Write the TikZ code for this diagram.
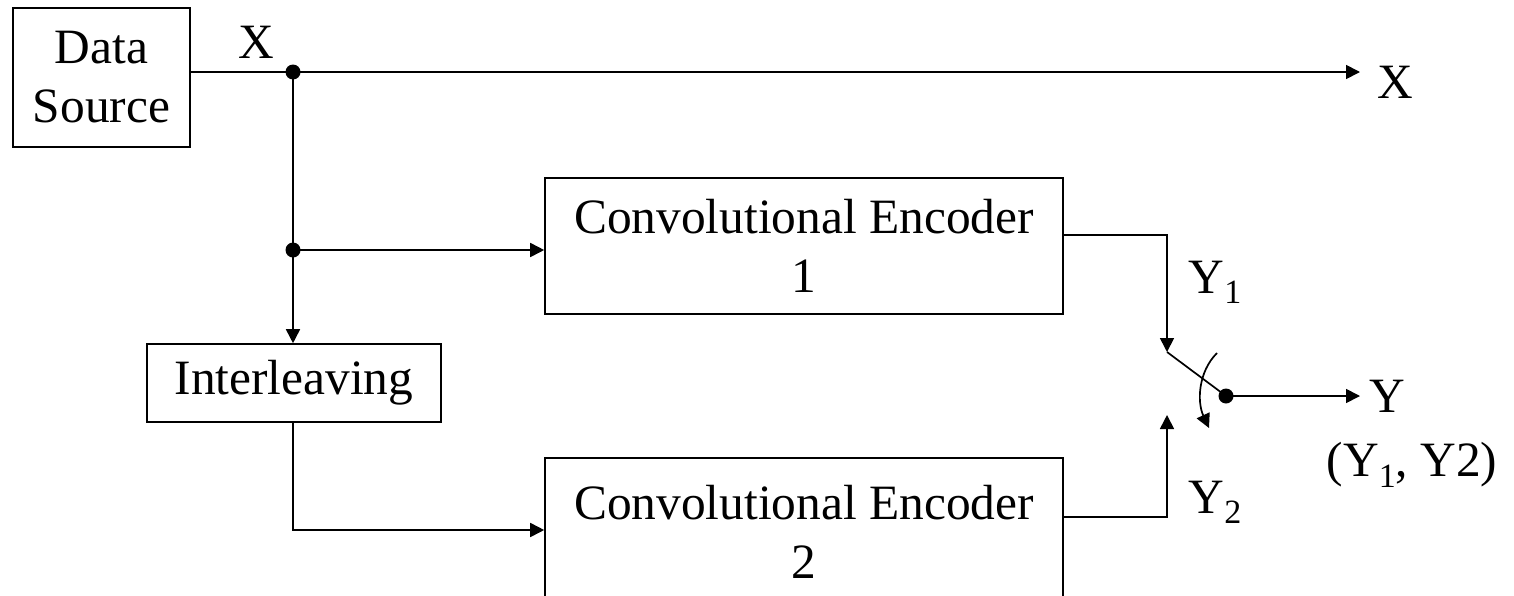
\documentclass[tikz,border=0pt]{standalone}
\usepackage{fontspec}
\setmainfont{Liberation Serif}
\usetikzlibrary{arrows.meta}
\newcommand{\mysub}[1]{\raisebox{-0.45ex}{\fontsize{17}{17}\selectfont #1}}
\begin{document}
\begin{tikzpicture}[x=0.5pt,y=-0.5pt,
 every node/.style={font=\fontsize{24.7}{29.5}\selectfont},
 blk/.style={draw, line width=0.8pt, inner sep=0pt, align=center},
 conn/.style={line width=0.85pt},
 arr/.style={conn, -{Triangle[length=7pt,width=7pt]}},
 jdot/.style={circle, fill, inner sep=0pt, minimum size=7.5pt}
]
\useasboundingbox (0,0) rectangle (1514,595);
\clip (0,0) rectangle (1514,595);
% blocks
\node[blk, minimum width=88.5pt, minimum height=69.5pt] (ds) at (101.5,77.5) {Data\\Source};
\node[blk, minimum width=147pt, minimum height=39pt] (il) at (294,383) {Interleaving};
\node[blk, minimum width=259pt, minimum height=68pt] (e1) at (804,246) {Convolutional Encoder\\1};
\node[blk, minimum width=259pt, minimum height=74pt] (e2) at (804,532) {Convolutional Encoder\\2};
% coordinates
\coordinate (j1) at (293,72);
\coordinate (j2) at (293,250);
\coordinate (xo) at (1360,72);
\coordinate (c1) at (1167,235);
\coordinate (s1) at (1167,352);
\coordinate (c2) at (1167,517);
\coordinate (s2) at (1167,415);
\coordinate (il2) at (293,530);
\coordinate (yo) at (1360,396);
\coordinate (ca) at (1217,353);
\coordinate (cb) at (1209,428);
\node[jdot] (d1) at (j1) {};
\node[jdot] (d2) at (j2) {};
\node[jdot] (d3) at (1226,396) {};
% labels
\node (lx) at (256,42) {X};
\node (lxo) at (1395,82) {X};
\node (ly1) at (1215,282) {Y\mysub{1}};
\node (ly2) at (1215,502) {Y\mysub{2}};
\node (ly) at (1387,396) {Y};
\node (lyy) at (1412,465) {(Y\mysub{1}, Y2)};
% connectors
\draw[arr] (ds.east |- j1) -- (xo);
\draw[arr] (j1) -- (il.north -| j1);
\draw[arr] (j2) -- (e1.west |- j2);
\draw[arr] (il.south -| il2) -- (il2) -- (e2.west |- il2);
\draw[arr] (e1.east |- c1) -- (c1) -- (s1);
\draw[arr] (e2.east |- c2) -- (c2) -- (s2);
\draw[conn] (s1) -- (d3.center);
\draw[arr] (d3.center) -- (yo);
\draw[arr] (ca) .. controls (1198,372) and (1197,402) .. (cb);
\end{tikzpicture}
\end{document}
